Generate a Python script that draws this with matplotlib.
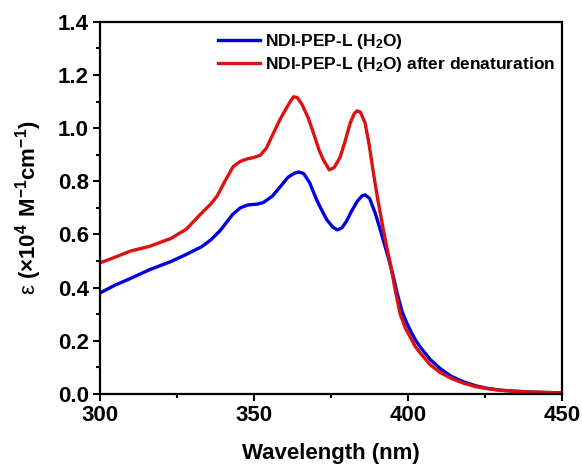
import numpy as np
import matplotlib.pyplot as plt
from matplotlib.ticker import AutoMinorLocator

plt.rcParams['font.family'] = ['Liberation Sans', 'DejaVu Sans']
plt.rcParams['font.weight'] = 'bold'
plt.rcParams['mathtext.fontset'] = 'custom'
plt.rcParams['mathtext.rm'] = 'Liberation Sans'
plt.rcParams['mathtext.bf'] = 'Liberation Sans:bold'
plt.rcParams['mathtext.default'] = 'regular'

# wavelength (nm) and molar absorptivity (x10^4 M^-1 cm^-1)
wl_native = [300, 305, 310, 316, 323, 328, 333, 336, 339, 341, 343, 345.5, 348, 351, 353,
             356, 358.5, 361, 363, 364.3, 366, 368, 370.3, 372, 373.6, 375.5, 377, 378.5, 380,
             381.5, 383.5, 385, 386, 387.5, 389.3, 390.5, 392, 393.5, 395, 396.5, 398, 399.5,
             401, 402.5, 404, 407.1, 410.4, 414, 418, 422, 426, 430, 435, 440, 445, 450]
eps_native = [0.38, 0.41, 0.435, 0.467, 0.498, 0.525, 0.554, 0.58, 0.615, 0.645, 0.675, 0.70, 0.711, 0.714, 0.72,
              0.745, 0.78, 0.815, 0.83, 0.835, 0.83, 0.795, 0.73, 0.69, 0.655, 0.628, 0.617, 0.625, 0.65,
              0.685, 0.725, 0.745, 0.749, 0.735, 0.68, 0.635, 0.575, 0.515, 0.45, 0.375, 0.31, 0.268,
              0.232, 0.20, 0.175, 0.13, 0.095, 0.066, 0.045, 0.03, 0.02, 0.014, 0.01, 0.007, 0.005, 0.004]

wl_denat = [300, 305, 310, 316, 323, 328, 332.5, 336, 338, 340.5, 343.2, 345.5, 347.7, 350, 352,
            354, 356.2, 358.5, 360.7, 362, 362.8, 364, 365.5, 367.5, 369.3, 371, 372.5, 374.4, 376,
            377.9, 379.5, 381.2, 382.5, 383.4, 384.5, 386, 387.3, 388.6, 390, 391.5, 393, 394.2,
            395.8, 397.4, 399, 400.6, 402.2, 403.9, 407.1, 410.4, 414, 418, 422, 426, 430, 435, 440, 445, 450]
eps_denat = [0.493, 0.515, 0.538, 0.555, 0.585, 0.62, 0.675, 0.715, 0.745, 0.80, 0.855, 0.875, 0.884, 0.89, 0.898,
             0.925, 0.98, 1.035, 1.08, 1.105, 1.118, 1.115, 1.09, 1.04, 0.98, 0.92, 0.88, 0.843, 0.852,
             0.89, 0.95, 1.02, 1.055, 1.065, 1.06, 1.02, 0.94, 0.84, 0.74, 0.645, 0.555, 0.49,
             0.39, 0.30, 0.25, 0.215, 0.18, 0.154, 0.11, 0.08, 0.058, 0.04, 0.027, 0.019, 0.013, 0.009, 0.007, 0.005, 0.004]

fig, ax = plt.subplots(figsize=(5.82, 4.65), dpi=100)
ax.plot(wl_native, eps_native, color='#0000DD', lw=2.4, label='NDI-PEP-L (H$_2$O)')
ax.plot(wl_denat, eps_denat, color='#DD1111', lw=2.4, label='NDI-PEP-L (H$_2$O) after denaturation')

ax.set_xlim(300, 450)
ax.set_ylim(0, 1.4)
ax.set_xticks([300, 350, 400, 450])
ax.set_yticks(np.arange(0, 1.41, 0.2))
ax.xaxis.set_minor_locator(AutoMinorLocator(2))
ax.yaxis.set_minor_locator(AutoMinorLocator(2))
ax.tick_params(which='major', direction='out', length=5, width=1.5, labelsize=16, pad=3)
ax.tick_params(which='minor', direction='out', length=3, width=1.5)
for s in ax.spines.values():
    s.set_linewidth(1.6)

ax.set_xlabel('Wavelength (nm)', fontsize=16, fontweight='bold', labelpad=12)
ax.set_ylabel(r'ε $\mathbf{(×10^{4}\ M^{-1}cm^{-1})}$', fontsize=16,
              fontweight='normal', labelpad=10)

ax.legend(loc='upper right', frameon=False, fontsize=12.5, handlelength=2.4,
          handletextpad=0.3, labelspacing=0.2, borderaxespad=0.2,
          bbox_to_anchor=(1.008, 1.0))

fig.subplots_adjust(left=0.172, right=0.966, top=0.953, bottom=0.153)
fig.savefig('out.png', dpi=100)
